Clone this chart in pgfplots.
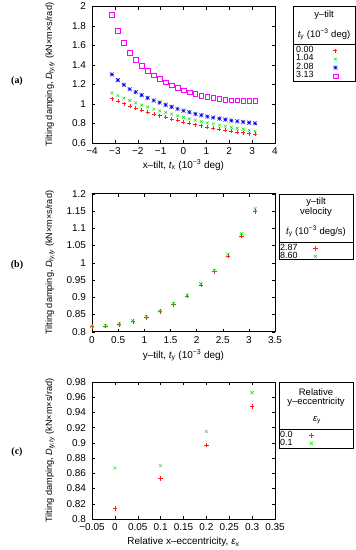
\documentclass[border=0pt]{standalone}
\usepackage{pgfplots}
\pgfplotsset{compat=1.18}
\usepackage{fontspec}
\setmainfont{Liberation Sans}
\newfontfamily\panelfont{Liberation Serif}
\definecolor{gred}{RGB}{255,30,30}
\definecolor{ggreen}{RGB}{0,225,0}
\definecolor{gblue}{RGB}{0,0,255}
\definecolor{gmag}{RGB}{255,0,255}
\pgfdeclareplotmark{plusx}{%
  \pgfpathmoveto{\pgfqpoint{-\pgfplotmarksize}{0pt}}\pgfpathlineto{\pgfqpoint{\pgfplotmarksize}{0pt}}%
  \pgfpathmoveto{\pgfqpoint{0pt}{-\pgfplotmarksize}}\pgfpathlineto{\pgfqpoint{0pt}{\pgfplotmarksize}}%
  \pgfpathmoveto{\pgfqpoint{-\pgfplotmarksize}{-\pgfplotmarksize}}\pgfpathlineto{\pgfqpoint{\pgfplotmarksize}{\pgfplotmarksize}}%
  \pgfpathmoveto{\pgfqpoint{-\pgfplotmarksize}{\pgfplotmarksize}}\pgfpathlineto{\pgfqpoint{\pgfplotmarksize}{-\pgfplotmarksize}}%
  \pgfusepathqstroke}
\newcommand{\fs}{\fontsize{10}{11}\selectfont}
\newcommand{\fy}{\fontsize{9.2}{10}\selectfont}
\newcommand{\fl}{\fontsize{9}{10}\selectfont}
\newcommand{\ft}{\fontsize{9.5}{10.5}\selectfont}
\pgfplotsset{
  gp/.style={
    scale only axis, width=183bp,
    tick align=inside, major tick length=3bp,
    every tick/.style={black, line width=0.4pt},
    axis line style={line width=0.5pt},
    ticklabel style={font=\fs},
    xlabel style={font=\fs},
    ylabel style={font=\fy},
    /pgf/number format/assume math mode=true,
    x tick label style={yshift=-1.5bp},
    y tick label style={xshift=-2.5bp},
    legend plot pos=right,
    legend cell align=left,
    legend style={draw=none, fill=none, inner sep=0pt, font=\fl, anchor=north west, column sep=0pt},
  },
}
\begin{document}
\begin{tikzpicture}
\useasboundingbox (0,0) rectangle (356bp,-550bp);
% ---------------- (a)
\begin{axis}[gp, at={(92bp,-143bp)}, anchor=south west, height=136.5bp,
  xmin=-4, xmax=4, ymin=0.6, ymax=2,
  xtick={-4,-3,-2,-1,0,1,2,3,4},
  xticklabels={−4,−3,−2,−1,0,1,2,3,4},
  ytick={0.6,0.8,1,1.2,1.4,1.6,1.8,2},
  xlabel={x–tilt, {\itshape t}\textsubscript{x} (10\textsuperscript{−3} deg)},
  ylabel={Tilting damping, {\itshape D}\textsubscript{\itshape ty,ty} (kN×m×s/rad)},
  xlabel style={at={(axis description cs:0.5,-0.161)}, anchor=center},
  ylabel style={at={(axis description cs:-0.229,0.5)}, anchor=center},
  legend style={at={(axis description cs:1.1148,0.709)},
    nodes={inner sep=0pt, text height=6bp, text depth=2.5bp, anchor=west},
    /tikz/every odd column/.append style={column sep=19.5bp}},
]
\addplot[only marks, mark=+, mark size=2bp, gred, line width=0.45pt] coordinates {
(-3.13,1.056)(-2.87,1.029)(-2.61,1.005)(-2.35,0.981)(-2.09,0.957)(-1.83,0.936)(-1.57,0.916)(-1.30,0.898)(-1.04,0.881)(-0.78,0.864)(-0.52,0.847)(-0.26,0.833)(0,0.816)(0.26,0.802)(0.52,0.789)(0.78,0.778)(1.04,0.765)(1.30,0.754)(1.57,0.744)(1.83,0.734)(2.09,0.723)(2.35,0.713)(2.61,0.706)(2.87,0.696)(3.13,0.689)};
\addlegendentry{0.00}
\addplot[only marks, mark=x, mark size=2bp, ggreen, line width=0.45pt] coordinates {
(-3.13,1.115)(-2.87,1.087)(-2.61,1.060)(-2.35,1.036)(-2.09,1.012)(-1.83,0.988)(-1.57,0.967)(-1.30,0.947)(-1.04,0.929)(-0.78,0.912)(-0.52,0.895)(-0.26,0.878)(0,0.864)(0.26,0.847)(0.52,0.833)(0.78,0.820)(1.04,0.806)(1.30,0.796)(1.57,0.782)(1.83,0.772)(2.09,0.761)(2.35,0.751)(2.61,0.741)(2.87,0.730)(3.13,0.720)};
\addlegendentry{1.04}
\addplot[only marks, mark=plusx, mark size=2bp, gblue, line width=0.45pt] coordinates {
(-3.13,1.303)(-2.87,1.245)(-2.61,1.197)(-2.35,1.152)(-2.09,1.122)(-1.83,1.091)(-1.57,1.063)(-1.30,1.036)(-1.04,1.015)(-0.78,0.991)(-0.52,0.971)(-0.26,0.950)(0,0.931)(0.26,0.916)(0.52,0.898)(0.78,0.885)(1.04,0.871)(1.30,0.861)(1.57,0.850)(1.83,0.840)(2.09,0.830)(2.35,0.823)(2.61,0.816)(2.87,0.809)(3.13,0.802)};
\addlegendentry{2.08}
\addplot[only marks, mark=square, mark size=2.3bp, gmag, line width=0.45pt] coordinates {
(-3.13,1.914)(-2.87,1.753)(-2.61,1.626)(-2.35,1.526)(-2.09,1.454)(-1.83,1.393)(-1.57,1.341)(-1.30,1.297)(-1.04,1.259)(-0.78,1.225)(-0.52,1.194)(-0.26,1.166)(0,1.142)(0.26,1.122)(0.52,1.104)(0.78,1.087)(1.04,1.074)(1.30,1.063)(1.57,1.053)(1.83,1.046)(2.09,1.040)(2.35,1.037)(2.61,1.035)(2.87,1.035)(3.13,1.035)};
\addlegendentry{3.13}
\end{axis}
\draw[line width=0.5pt] (293bp,-6bp) rectangle (355bp,-81bp);
\draw[line width=0.5pt] (293bp,-44bp) -- (355bp,-44bp);
\node[font=\ft, inner sep=0pt] at (324bp,-15bp) {y–tilt};
\node[font=\ft, inner sep=0pt] at (324bp,-34bp) {{\itshape t}\textsubscript{y} (10\textsuperscript{−3} deg)};
\node[font=\panelfont\bfseries\fs, inner sep=0pt] at (17bp,-81bp) {(a)};
% ---------------- (b)
\begin{axis}[gp, at={(92bp,-331.7bp)}, anchor=south west, height=138bp,
  xmin=0, xmax=3.5, ymin=0.8, ymax=1.2,
  xtick={0,0.5,1,1.5,2,2.5,3,3.5},
  ytick={0.8,0.85,0.9,0.95,1,1.05,1.1,1.15,1.2},
  xlabel={y–tilt, {\itshape t}\textsubscript{y} (10\textsuperscript{−3} deg)},
  ylabel={Tilting damping, {\itshape D}\textsubscript{\itshape ty,ty} (kN×m×s/rad)},
  xlabel style={at={(axis description cs:0.5,-0.174)}, anchor=center},
  ylabel style={at={(axis description cs:-0.229,0.5)}, anchor=center},
  legend style={at={(axis description cs:1.0273,0.634)},
    nodes={inner sep=0pt, text height=6bp, text depth=2bp, anchor=west},
    /tikz/every odd column/.append style={column sep=15.5bp}},
]
\addplot[only marks, mark=+, mark size=2.2bp, gred, line width=0.45pt] coordinates {
(0,0.815)(0.26,0.816)(0.52,0.821)(0.78,0.830)(1.04,0.841)(1.30,0.858)(1.56,0.879)(1.82,0.903)(2.08,0.935)(2.34,0.974)(2.60,1.019)(2.86,1.077)(3.12,1.149)};
\addlegendentry{2.87}
\addplot[only marks, mark=x, mark size=2.2bp, ggreen, line width=0.45pt] coordinates {
(0,0.816)(0.26,0.817)(0.52,0.822)(0.78,0.831)(1.04,0.843)(1.30,0.860)(1.56,0.881)(1.82,0.906)(2.08,0.939)(2.34,0.978)(2.60,1.025)(2.86,1.084)(3.12,1.157)};
\addlegendentry{8.60}
\end{axis}
\draw[line width=0.5pt] (279bp,-194bp) rectangle (353bp,-259bp);
\draw[line width=0.5pt] (279bp,-242bp) -- (353bp,-242bp);
\node[font=\ft, inner sep=0pt] at (316bp,-202bp) {y–tilt};
\node[font=\ft, inner sep=0pt] at (316bp,-212bp) {velocity};
\node[font=\ft, inner sep=0pt] at (316bp,-231bp) {{\itshape\.{t}}\textsubscript{y} (10\textsuperscript{−3} deg/s)};
\node[font=\panelfont\bfseries\fs, inner sep=0pt] at (17bp,-265bp) {(b)};
% ---------------- (c)
\begin{axis}[gp, at={(92bp,-519bp)}, anchor=south west, height=137bp,
  xmin=-0.05, xmax=0.35, ymin=0.8, ymax=0.98,
  xtick={-0.05,0,0.05,0.1,0.15,0.2,0.25,0.3,0.35},
  xticklabels={−0.05,0,0.05,0.1,0.15,0.2,0.25,0.3,0.35},
  ytick={0.8,0.82,0.84,0.86,0.88,0.9,0.92,0.94,0.96,0.98},
  yticklabels={0.8,0.82,0.84,0.86,0.88,0.9,0.92,0.94,0.96,0.98},
  xlabel={Relative x–eccentricity, {\itshape ε}\textsubscript{x}},
  ylabel={Tilting damping, {\itshape D}\textsubscript{\itshape ty,ty} (kN×m×s/rad)},
  xlabel style={at={(axis description cs:0.5,-0.168)}, anchor=center},
  ylabel style={at={(axis description cs:-0.229,0.5)}, anchor=center},
  legend style={at={(axis description cs:1.0273,0.641)},
    nodes={inner sep=0pt, text height=6bp, text depth=2bp, anchor=west},
    /tikz/every odd column/.append style={column sep=16.5bp}},
]
\addplot[only marks, mark=+, mark size=2.2bp, gred, line width=0.45pt] coordinates {
(0,0.814)(0.1,0.853)(0.2,0.897)(0.3,0.948)};
\addlegendentry{0.0}
\addplot[only marks, mark=x, mark size=2.2bp, ggreen, line width=0.45pt] coordinates {
(0,0.867)(0.1,0.870)(0.2,0.915)(0.3,0.966)};
\addlegendentry{0.1}
\end{axis}
\draw[line width=0.5pt] (279bp,-382bp) rectangle (353bp,-448bp);
\draw[line width=0.5pt] (279bp,-429bp) -- (353bp,-429bp);
\node[font=\ft, inner sep=0pt] at (316bp,-392bp) {Relative};
\node[font=\ft, inner sep=0pt] at (316bp,-402bp) {y–eccentricity};
\node[font=\ft, inner sep=0pt] at (317bp,-420bp) {{\itshape ε}\textsubscript{y}};
\node[font=\panelfont\bfseries\fs, inner sep=0pt] at (17bp,-452bp) {(c)};
\end{tikzpicture}
\end{document}
